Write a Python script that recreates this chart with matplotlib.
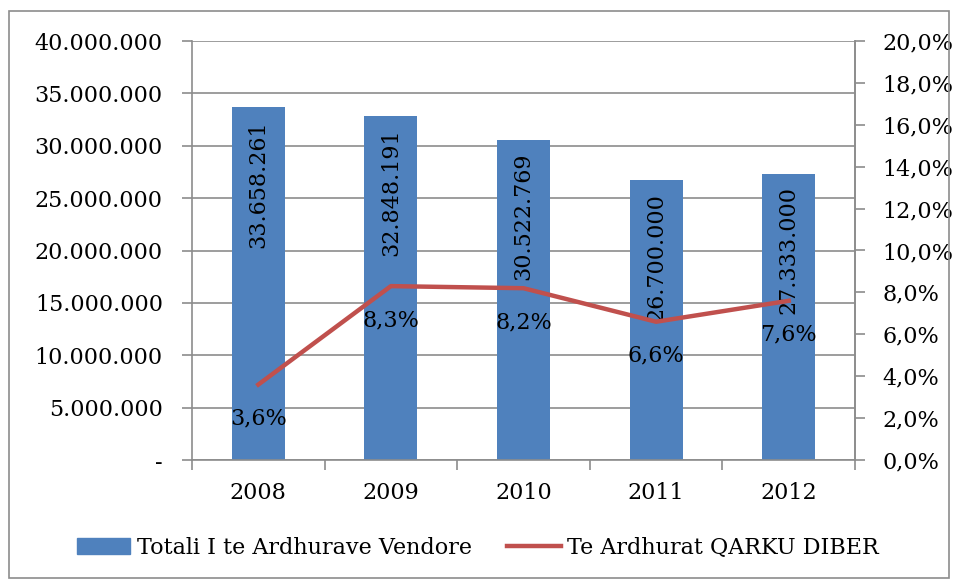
import numpy as np
import matplotlib.pyplot as plt
from matplotlib.ticker import FuncFormatter, FixedLocator
from matplotlib.patches import Rectangle
from matplotlib.lines import Line2D

years = ['2008', '2009', '2010', '2011', '2012']
totals = [33658261, 32848191, 30522769, 26700000, 27333000]
share = [3.6, 8.3, 8.2, 6.6, 7.6]

blue = '#4F81BD'
red = '#C0504D'
grid = '#8C8C8C'
plt.rcParams['font.family'] = ['DejaVu Serif']
fs = 16


def dots(v):
    return f"{int(v):,}".replace(',', '.')


fig = plt.figure(figsize=(9.56, 5.8), dpi=100)
fig.patches.append(Rectangle((9 / 956, 0.004), 940 / 956, 1 - 11 / 580 - 0.004,
                             transform=fig.transFigure, fill=False,
                             edgecolor='#8C8C8C', linewidth=1.2))
ax = fig.add_axes([192 / 956, 1 - 460 / 580, 663 / 956, 419 / 580])
x = np.arange(len(years))

ax.bar(x, totals, width=0.4, color=blue, zorder=2)
for xi, v in zip(x, totals):
    ax.text(xi, v - 1200000, dots(v), rotation=90, ha='center', va='top',
            fontsize=fs, zorder=4)

ax.set_xlim(-0.5, 4.5)
ax.set_ylim(0, 40000000)
ax.set_yticks(np.arange(0, 40000001, 5000000))
ax.yaxis.set_major_formatter(FuncFormatter(lambda v, p: '-' if v == 0 else dots(v)))
ax.yaxis.grid(True, color=grid, linewidth=1.2, zorder=0)
ax.set_axisbelow(True)
ax.set_xticks(x)
ax.set_xticklabels(years)
ax.xaxis.set_minor_locator(FixedLocator(np.arange(-0.5, 4.6, 1)))
ax.tick_params(axis='x', which='major', length=0, pad=16, labelsize=fs)
ax.tick_params(axis='x', which='minor', length=7, color=grid, width=1.2)
ax.tick_params(axis='y', length=7, color=grid, width=1.2, labelsize=fs, pad=14)
for s in ['top']:
    ax.spines[s].set_visible(False)
for s in ['left', 'right', 'bottom']:
    ax.spines[s].set_color(grid)
    ax.spines[s].set_linewidth(1.2)

ax2 = ax.twinx()
ax2.plot(x, share, color=red, linewidth=3.2, zorder=3)
for xi, v in zip(x, share):
    ax2.text(xi, v - 1.1, f"{v:.1f}%".replace('.', ','), ha='center', va='top',
             fontsize=fs, zorder=5)
ax2.set_ylim(0, 20)
ax2.set_yticks(np.arange(0, 20.1, 2))
ax2.yaxis.set_major_formatter(FuncFormatter(lambda v, p: f"{v:.1f}%".replace('.', ',')))
ax2.tick_params(axis='y', length=7, color=grid, width=1.2, labelsize=fs, pad=13)
for s in ['top', 'left', 'bottom']:
    ax2.spines[s].set_visible(False)
ax2.spines['right'].set_color(grid)
ax2.spines['right'].set_linewidth(1.2)

handles = [Rectangle((0, 0), 1, 1, color=blue),
           Line2D([0], [0], color=red, linewidth=3.2)]
fig.legend(handles, ['Totali I te Ardhurave Vendore', 'Te Ardhurat QARKU DIBER'],
           loc='center', bbox_to_anchor=(0.5, 1 - 548 / 580), ncol=2, frameon=False,
           fontsize=fs, handlelength=2.4, handletextpad=0.3, columnspacing=1.6)

fig.savefig('out.png', dpi=100)
